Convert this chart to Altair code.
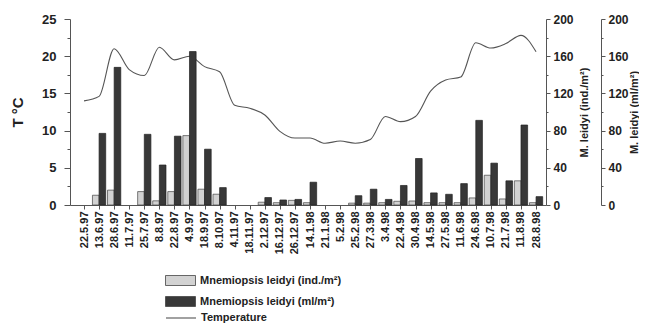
import json
import altair as alt
import pandas as pd

dates = ["22.5.97", "13.6.97", "28.6.97", "11.7.97", "25.7.97", "8.8.97", "22.8.97",
         "4.9.97", "18.9.97", "8.10.97", "4.11.97", "18.11.97", "2.12.97", "16.12.97",
         "26.12.97", "14.1.98", "21.1.98", "5.2.98", "25.2.98", "27.3.98", "3.4.98",
         "22.4.98", "30.4.98", "14.5.98", "27.5.98", "11.6.98", "24.6.98", "10.7.98",
         "21.7.98", "11.8.98", "28.8.98"]
temperature = [14.0, 14.6, 21.0, 18.2, 17.4, 21.2, 19.5, 20.0, 18.6, 17.9, 13.4, 13.0,
               12.1, 9.9, 9.0, 9.0, 8.3, 8.6, 8.3, 8.8, 11.9, 11.2, 11.9, 15.3, 16.8,
               17.2, 21.8, 21.1, 21.7, 22.8, 20.6]
ind_m2 = [0, 10.5, 16, 0, 14.4, 4.5, 14.4, 74.6, 17, 11.6, 0, 0, 3, 2.5, 5, 2.5, 0, 0,
          2, 2, 2.5, 4, 4.3, 2.5, 2.5, 2.5, 7.6, 32, 6.5, 26, 2.5]
ml_m2 = [0, 77, 148, 0, 76, 43, 74, 165, 60, 18.7, 0, 0, 8, 5.4, 6, 24.5, 0, 0, 10, 17,
         6, 21, 50, 13, 11.5, 23, 91, 45, 26, 86, 9]

series_names = ["Mnemiopsis leidyi (ind./m²)", "Mnemiopsis leidyi (ml/m²)"]

df = pd.DataFrame({"i": list(range(len(dates))), "date": dates, "temp": temperature,
                   "ind": ind_m2, "ml": ml_m2})

FONT = "Liberation Sans"

xscale = alt.Scale(domain=[-0.93, 30.66], nice=False, zero=False)
label_expr = json.dumps(dates) + "[datum.value]"
x_axis = alt.Axis(values=list(range(len(dates))), labelExpr=label_expr,
                  labelAngle=-90, labelFont=FONT, labelFontWeight="bold",
                  labelFontSize=11, labelColor="#222", tickSize=4,
                  labelPadding=2, domainColor="#555", tickColor="#555",
                  grid=False, title=None)

base = alt.Chart(df)

fill_scale = alt.Scale(domain=series_names, range=["#d2d2d2", "#383838"])
fill_legend = alt.Legend(title=None, orient="none", legendX=105, legendY=256,
                         symbolType="M-3,-1H3V1H-3Z", symbolSize=100,
                         symbolStrokeColor="#444", symbolStrokeWidth=0.8,
                         labelOffset=14, labelFont=FONT, labelFontWeight="bold",
                         labelFontSize=11, labelColor="#222", rowPadding=6,
                         direction="vertical", padding=0)

line = base.transform_calculate(series="'Temperature'").mark_line(
    interpolate="monotone", strokeWidth=1.1
).encode(
    x=alt.X("i:Q", scale=xscale, axis=x_axis),
    y=alt.Y("temp:Q", scale=alt.Scale(domain=[0, 25], nice=False),
            axis=alt.Axis(title="T °C", titleFont=FONT, titleFontSize=15,
                          titleFontWeight="bold", titleColor="#222",
                          titleX=-45, titleY=93, titleAngle=270,
                          values=[v * 2.5 for v in range(11)],
                          labelExpr="datum.value % 5 == 0 ? datum.label : ''",
                          tickSize={"condition": {"test": "datum.value % 5 == 0", "value": 6},
                                    "value": 3},
                          labelFont=FONT, labelFontSize=13, labelFontWeight="bold",
                          labelColor="#222", labelPadding=8, domainColor="#555",
                          tickColor="#555", grid=False, orient="left")),
    stroke=alt.Stroke("series:N", scale=alt.Scale(domain=["Temperature"], range=["#555555"]),
                      legend=alt.Legend(title=None, orient="none", legendX=105, legendY=293,
                                        symbolType="M-3,0H3", symbolSize=100,
                                        symbolStrokeWidth=1.1, labelOffset=14,
                                        labelFont=FONT, labelFontWeight="bold",
                                        labelFontSize=11, labelColor="#222", padding=0)),
)

right_axis_common = dict(values=list(range(0, 201, 20)),
                         labelExpr="datum.value % 40 == 0 ? datum.label : ''",
                         tickSize={"condition": {"test": "datum.value % 40 == 0", "value": 4},
                                   "value": 2},
                         labelFont=FONT, labelFontSize=12, labelFontWeight="bold",
                         labelColor="#222", labelPadding=3, domainColor="#555",
                         tickColor="#555", grid=False, orient="right",
                         titleFont=FONT, titleFontSize=11, titleFontWeight="bold",
                         titleColor="#222", titleAngle=270, titleY=93)

light = base.transform_filter("datum.ind > 0").transform_calculate(
    series="'" + series_names[0] + "'", x0="datum.i - 0.44", x1="datum.i"
).mark_bar(stroke="#444", strokeWidth=0.7).encode(
    x=alt.X("x0:Q", scale=xscale, axis=x_axis),
    x2="x1:Q",
    y=alt.Y("ind:Q", scale=alt.Scale(domain=[0, 200], nice=False),
            axis=alt.Axis(title="M. leidyi (ind./m²)", offset=0, titleX=43,
                          **right_axis_common)),
    y2=alt.Y2(datum=0),
    fill=alt.Fill("series:N", scale=fill_scale, legend=fill_legend),
)

dark = base.transform_filter("datum.ml > 0").transform_calculate(
    series="'" + series_names[1] + "'", x0="datum.i", x1="datum.i + 0.44"
).mark_bar(stroke="#222", strokeWidth=0.7).encode(
    x=alt.X("x0:Q", scale=xscale, axis=x_axis),
    x2="x1:Q",
    y=alt.Y("ml:Q", scale=alt.Scale(domain=[0, 200], nice=False),
            axis=alt.Axis(title="M. leidyi (ml/m²)", offset=55, titleX=38,
                          **right_axis_common)),
    y2=alt.Y2(datum=0),
    fill=alt.Fill("series:N", scale=fill_scale, legend=fill_legend),
)

chart = alt.layer(line, light, dark).resolve_scale(y="independent").properties(
    width=476, height=186,
    autosize=alt.AutoSizeParams(type="none"),
    padding={"left": 62, "top": 11, "right": 93, "bottom": 119},
    background="white",
).configure_view(stroke=None)

chart.save("out.html", embed_options={"renderer": "svg", "actions": False})
